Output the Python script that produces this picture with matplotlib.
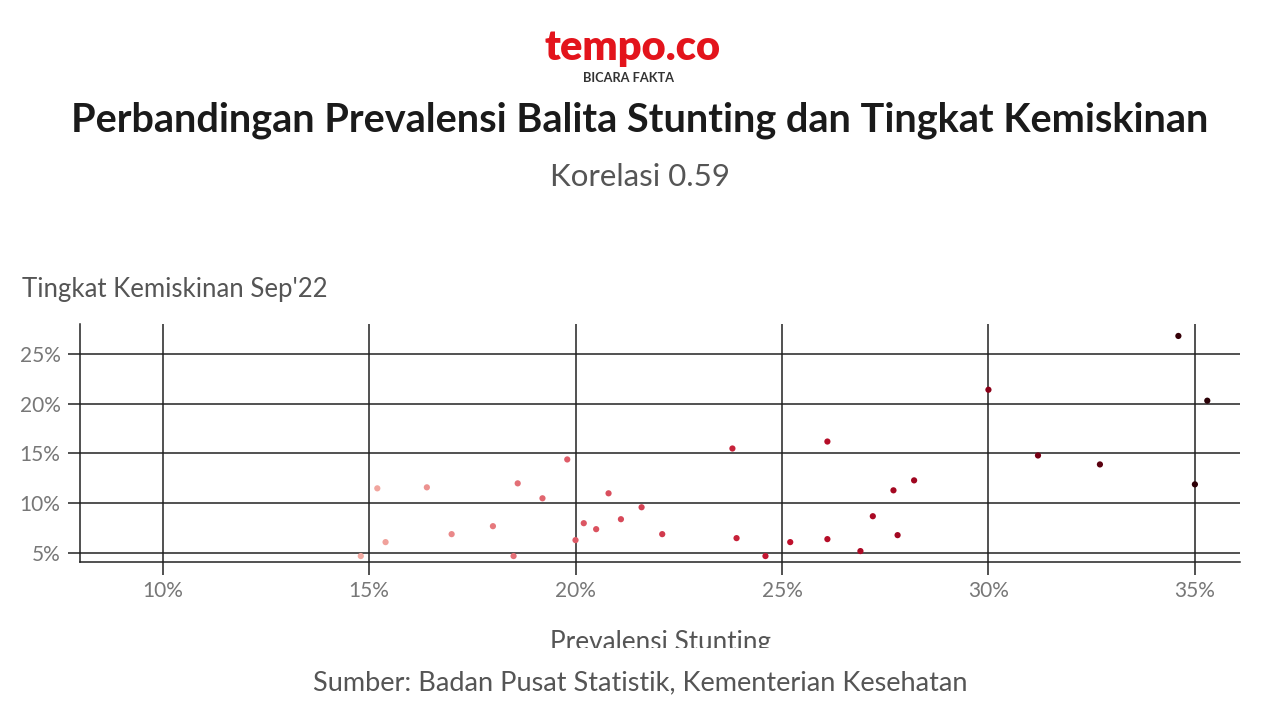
import matplotlib
matplotlib.use("Agg")
import matplotlib.pyplot as plt
from matplotlib.colors import LinearSegmentedColormap, Normalize
from matplotlib.transforms import Bbox

# Prevalensi balita stunting (%) per provinsi
stunting = [14.8, 15.2, 15.4, 16.4, 17.0, 18.0, 18.5, 18.6, 19.2, 19.8,
            20.0, 20.2, 20.5, 20.8, 21.1, 21.6, 22.1, 23.8, 23.9, 24.6,
            25.2, 26.1, 26.1, 26.9, 27.2, 27.7, 27.8, 28.2, 30.0, 31.2,
            32.7, 34.6, 35.0, 35.3]
# Tingkat kemiskinan Sep'22 (%)
kemiskinan = [4.7, 11.5, 6.1, 11.6, 6.9, 7.7, 4.7, 12.0, 10.5, 14.4,
              6.3, 8.0, 7.4, 11.0, 8.4, 9.6, 6.9, 15.5, 6.5, 4.7,
              6.1, 16.2, 6.4, 5.2, 8.7, 11.3, 6.8, 12.3, 21.4, 14.8,
              13.9, 26.8, 11.9, 20.3]

x_ticks = [10, 15, 20, 25, 30, 35]
y_ticks = [5, 10, 15, 20, 25]

title = "Perbandingan Prevalensi Balita Stunting dan Tingkat Kemiskinan"
subtitle = "Korelasi 0.59"
source = "Sumber: Badan Pusat Statistik, Kementerian Kesehatan"

plt.rcParams['font.family'] = ['Lato', 'DejaVu Sans']

fig = plt.figure(figsize=(12.8, 7.2), dpi=100)
fig.patch.set_facecolor('white')
ax = fig.add_axes([0.0625, 0.2194, 0.9065, 0.3306])

cmap = LinearSegmentedColormap.from_list('merah', ['#f2aaa2', '#de5a66', '#c0102c', '#8a0018', '#2a0006'])
norm = Normalize(vmin=min(stunting), vmax=max(stunting))
ax.scatter(stunting, kemiskinan, c=stunting, cmap=cmap, norm=norm, s=20, zorder=3, linewidths=0)

ax.set_xlim(8, 36.1)
ax.set_ylim(4.1, 28)
ax.set_xticks(x_ticks)
ax.set_yticks(y_ticks)
ax.set_xticklabels([f'{v}%' for v in x_ticks])
ax.set_yticklabels([f'{v}%' for v in y_ticks])
ax.grid(True, color='#222222', linewidth=1.1)
ax.set_axisbelow(True)
for s in ['top', 'right']:
    ax.spines[s].set_visible(False)
for s in ['left', 'bottom']:
    ax.spines[s].set_color('#222222')
    ax.spines[s].set_linewidth(1.1)
ax.tick_params(length=9, width=1.1, color='#222222', labelsize=15, labelcolor='#777777', pad=5)

# judul dan logo
fig.text(0.494, 0.933, 'tempo.co', ha='center', va='center', fontsize=30, fontweight='heavy', color='#e3141c')
fig.text(0.491, 0.891, 'BICARA FAKTA', ha='center', va='center', fontsize=9.2, fontweight='bold', color='#333333')
fig.text(0.5, 0.833, title, ha='center', va='center', fontsize=28.5, fontweight='bold', color='#1a1a1a')
fig.text(0.5, 0.754, subtitle, ha='center', va='center', fontsize=22.5, color='#555555')
fig.text(0.017, 0.598, "Tingkat Kemiskinan Sep'22", ha='left', va='center', fontsize=18.5, color='#555555')

xl = fig.text(0.516, 0.108, 'Prevalensi Stunting', ha='center', va='center', fontsize=18.8, color='#555555')
xl.set_clip_box(Bbox.from_extents(0, 72, 1280, 720))
xl.set_clip_on(True)
fig.text(0.5, 0.051, source, ha='center', va='center', fontsize=19.5, color='#555555')

fig.savefig('out.png', dpi=100, facecolor='white')
